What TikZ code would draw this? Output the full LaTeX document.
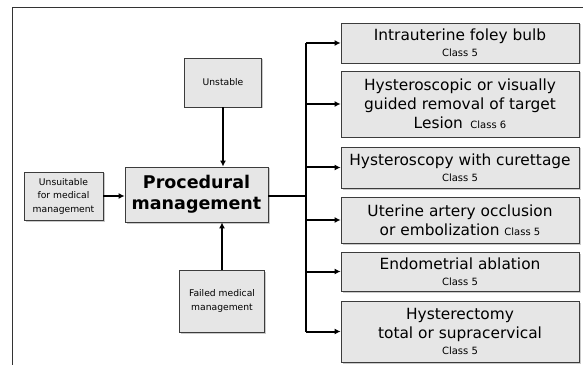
\documentclass[tikz,border=0pt]{standalone}
\usepackage{fontspec}
\setmainfont{DejaVu Sans}
\usetikzlibrary{arrows.meta,shadows}
\definecolor{boxfill}{HTML}{E6E6E6}
\definecolor{boxline}{HTML}{3C3C3C}
\begin{document}
\begin{tikzpicture}[x=1pt,y=-1pt,
  box/.style={draw=boxline,line width=0.8pt,fill=boxfill,align=center,inner sep=0pt,
    drop shadow={shadow xshift=1.5pt,shadow yshift=-1.5pt,fill=black!35,opacity=0.6}},
  small/.style={box,font=\fontsize{9.2}{13.5}\selectfont},
  rbox/.style={box,minimum width=238pt,font=\fontsize{15.4}{19}\selectfont},
  conn/.style={line width=2pt,draw=black},
  arr/.style={conn,-{Latex[length=6pt,width=6pt]}}]
\useasboundingbox (0,0) rectangle (583,374);
\draw[line width=0.9pt,draw=black!80] (583,7) -- (12,7) -- (12,365);
\node[small,minimum width=77pt,minimum height=49pt] (unst) at (223,82.5) {Unstable};
\node[box,minimum width=143pt,minimum height=55pt,font=\fontsize{17.5}{21}\selectfont\bfseries] (proc) at (196.5,194.5) {Procedural\\management};
\node[small,minimum width=79pt,minimum height=48pt] (unsu) at (63.5,196) {Unsuitable\\for medical\\management};
\node[small,minimum width=85pt,minimum height=62pt] (fail) at (222,301) {Failed medical\\management};
\node[rbox,minimum height=40pt] (r1) at (460,43) {Intrauterine foley bulb\\[-3pt]{\fontsize{10}{12}\selectfont Class 5}};
\node[rbox,minimum height=66pt] (r2) at (460,104) {Hysteroscopic or visually\\guided removal of target\\Lesion\, {\fontsize{10}{12}\selectfont Class 6}};
\node[rbox,minimum height=41pt] (r3) at (460,167.5) {Hysteroscopy with curettage\\[-3pt]{\fontsize{10}{12}\selectfont Class 5}};
\node[rbox,minimum height=46pt] (r4) at (460,220) {Uterine artery occlusion\\or embolization {\fontsize{10}{12}\selectfont Class 5}};
\node[rbox,minimum height=39pt] (r5) at (460,271.5) {Endometrial ablation\\[-3pt]{\fontsize{10}{12}\selectfont Class 5}};
\node[rbox,minimum height=61pt] (r6) at (460,331.5) {Hysterectomy\\total or supracervical\\[-3pt]{\fontsize{10}{12}\selectfont Class 5}};
\coordinate (bus) at (306,196);
\draw[arr] (unst) -- (unst |- proc.north);
\draw[arr] (fail) -- (fail |- proc.south);
\draw[arr] (unsu.east) -- (unsu.east -| proc.west);
\draw[conn] (proc.east |- bus) -- (bus);
\draw[conn] (bus |- r1.west) -- (bus |- r6.west);
\foreach \n in {r1,r2,r3,r4,r5,r6}{\draw[arr] (bus |- \n.west) -- (\n.west);}
\end{tikzpicture}
\end{document}
